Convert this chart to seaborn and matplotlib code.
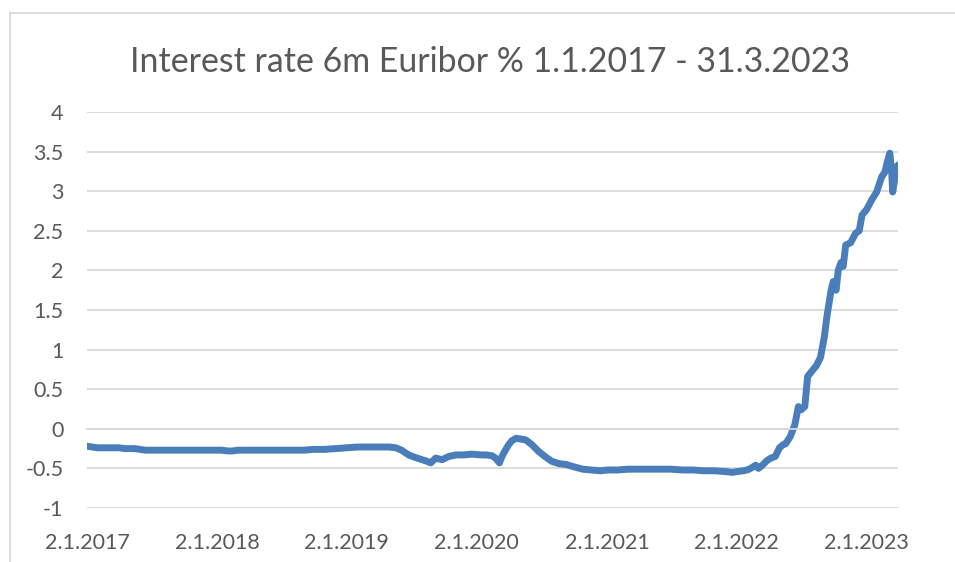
import seaborn as sns
import pandas as pd
import matplotlib.pyplot as plt
from matplotlib.ticker import FuncFormatter
from matplotlib.patches import Rectangle

# 6m Euribor, values (%)
dates = [
    '2017-01-02', '2017-01-16', '2017-02-01', '2017-02-15', '2017-03-01', '2017-03-15',
    '2017-04-03', '2017-04-18', '2017-05-02', '2017-05-16', '2017-06-01', '2017-06-15',
    '2017-07-03', '2017-08-01', '2017-09-01', '2017-10-02', '2017-11-01', '2017-12-01',
    '2018-01-02', '2018-01-16', '2018-02-01', '2018-02-15', '2018-03-01', '2018-04-03',
    '2018-05-02', '2018-06-01', '2018-07-02', '2018-08-01', '2018-09-03', '2018-10-01',
    '2018-11-01', '2018-12-03',
    '2019-01-02', '2019-02-01', '2019-03-01', '2019-04-01', '2019-05-02', '2019-05-20',
    '2019-06-05', '2019-06-25', '2019-07-12', '2019-08-01', '2019-08-15', '2019-08-26',
    '2019-09-09', '2019-09-18', '2019-09-27', '2019-10-15', '2019-11-05', '2019-11-25',
    '2019-12-20',
    '2020-01-15', '2020-01-30', '2020-02-14', '2020-02-24', '2020-03-06', '2020-03-13',
    '2020-03-20', '2020-04-01', '2020-04-10', '2020-04-22', '2020-05-05', '2020-05-19',
    '2020-06-05', '2020-06-25', '2020-07-15', '2020-07-31', '2020-08-20', '2020-09-09',
    '2020-10-01', '2020-10-26', '2020-11-20', '2020-12-14',
    '2021-01-04', '2021-02-01', '2021-03-01', '2021-04-01', '2021-05-03', '2021-06-01',
    '2021-07-01', '2021-08-02', '2021-09-01', '2021-10-01', '2021-11-01', '2021-12-01',
    '2021-12-20',
    '2022-01-03', '2022-01-20', '2022-01-31', '2022-02-10', '2022-02-24', '2022-03-04',
    '2022-03-15', '2022-03-28', '2022-04-08', '2022-04-20', '2022-05-02', '2022-05-12',
    '2022-05-19', '2022-06-01', '2022-06-08', '2022-06-14', '2022-06-24', '2022-07-02',
    '2022-07-12', '2022-07-20', '2022-08-03', '2022-08-14', '2022-08-25', '2022-09-05',
    '2022-09-12', '2022-09-24', '2022-09-30', '2022-10-08', '2022-10-14', '2022-10-22',
    '2022-10-28', '2022-11-04', '2022-11-18', '2022-12-02', '2022-12-12', '2022-12-20',
    '2023-01-02', '2023-01-16', '2023-01-30', '2023-02-13', '2023-02-22', '2023-03-01',
    '2023-03-08', '2023-03-13', '2023-03-16', '2023-03-23', '2023-03-31',
]
rates = [
    -0.22, -0.23, -0.24, -0.24, -0.24, -0.24,
    -0.24, -0.25, -0.25, -0.25, -0.26, -0.27,
    -0.27, -0.27, -0.27, -0.27, -0.27, -0.27,
    -0.27, -0.27, -0.28, -0.28, -0.27, -0.27,
    -0.27, -0.27, -0.27, -0.27, -0.27, -0.26,
    -0.26, -0.25,
    -0.24, -0.23, -0.23, -0.23, -0.23, -0.24,
    -0.27, -0.33, -0.36, -0.39, -0.41, -0.43,
    -0.37, -0.38, -0.39, -0.35, -0.33, -0.33,
    -0.32,
    -0.33, -0.33, -0.34, -0.37, -0.43, -0.35,
    -0.29, -0.20, -0.15, -0.12, -0.13, -0.14,
    -0.20, -0.29, -0.36, -0.41, -0.44, -0.45,
    -0.48, -0.51, -0.52, -0.53,
    -0.52, -0.52, -0.51, -0.51, -0.51, -0.51,
    -0.51, -0.52, -0.52, -0.53, -0.53, -0.54,
    -0.55,
    -0.54, -0.53, -0.52, -0.50, -0.46, -0.50,
    -0.46, -0.40, -0.37, -0.35, -0.24, -0.20,
    -0.19, -0.10, -0.02, 0.05, 0.28, 0.24,
    0.28, 0.66, 0.74, 0.80, 0.90, 1.16,
    1.41, 1.75, 1.86, 1.75, 2.00, 2.10,
    2.05, 2.32, 2.35, 2.47, 2.50, 2.70,
    2.77, 2.89, 2.99, 3.18, 3.24, 3.37,
    3.48, 3.27, 2.99, 3.18, 3.33,
]
year_ticks = ['2017-01-02', '2018-01-02', '2019-01-02', '2020-01-02',
              '2021-01-02', '2022-01-02', '2023-01-02']
year_labels = ['2.1.2017', '2.1.2018', '2.1.2019', '2.1.2020',
               '2.1.2021', '2.1.2022', '2.1.2023']
y_ticks = [-1, -0.5, 0, 0.5, 1, 1.5, 2, 2.5, 3, 3.5, 4]

df = pd.DataFrame({'date': pd.to_datetime(dates), 'rate': rates})

sns.set_style('white')
plt.rcParams['font.family'] = ['Lato', 'DejaVu Sans']
grey = '#595959'

fig = plt.figure(figsize=(9.55, 5.62), dpi=100)
ax = fig.add_axes([87 / 955, 54 / 562, 811 / 955, 396 / 562])

sns.lineplot(data=df, x='date', y='rate', ax=ax, color='#4a7ebb',
             linewidth=5, solid_capstyle='round', solid_joinstyle='round')

ax.set_ylim(-1, 4)
ax.set_xlim(pd.Timestamp('2017-01-02'), pd.Timestamp('2023-03-31'))
ax.set_yticks(y_ticks)
ax.yaxis.set_major_formatter(FuncFormatter(lambda v, p: f'{v:g}'))
ax.grid(axis='y', color='#d9d9d9', linewidth=1.3)
ax.set_axisbelow(True)

ax.set_xticks(pd.to_datetime(year_ticks))
ax.set_xticklabels(year_labels)
for s in ['top', 'right', 'left']:
    ax.spines[s].set_visible(False)
ax.spines['bottom'].set_position(('data', 0))
ax.spines['bottom'].set_color('#d9d9d9')
ax.spines['bottom'].set_linewidth(1.3)
ax.tick_params(axis='x', direction='out', length=5, width=1.3, color='#d9d9d9',
               labelsize=15.5, labelcolor=grey, pad=70)
ax.tick_params(axis='y', length=0, labelsize=15.5, labelcolor=grey, pad=17)
ax.set_xlabel('')
ax.set_ylabel('')

fig.text(0.513, 0.89, 'Interest rate 6m Euribor % 1.1.2017 - 31.3.2023',
         ha='center', va='center', fontsize=24.4, color=grey)

fig.patches.append(Rectangle((10 / 955, -0.1), 1.2, 0.1 + 549 / 562, fill=False,
                             edgecolor='#d9d9d9', linewidth=1.3,
                             transform=fig.transFigure, figure=fig))

fig.savefig('out.png', dpi=100)
